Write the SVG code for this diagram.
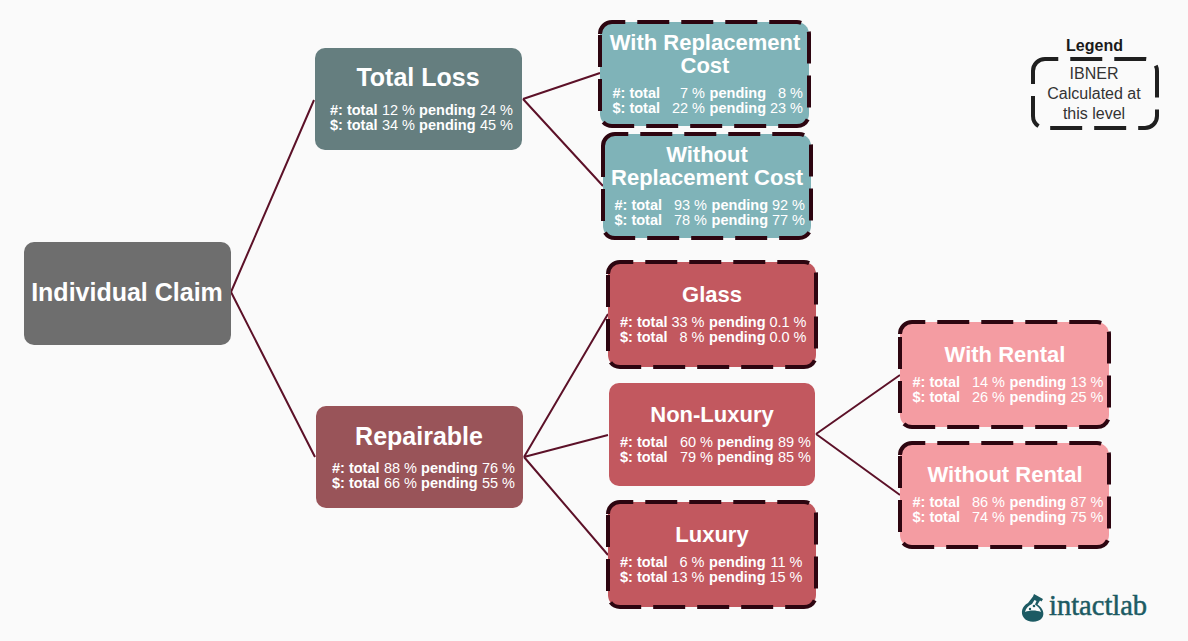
<svg xmlns="http://www.w3.org/2000/svg" width="1188" height="641" viewBox="0 0 1188 641">
<style>
text{font-family:"Liberation Sans",Arial,sans-serif;fill:#fff}
.t{font-weight:700;text-anchor:middle}
.t25{font-size:25px}.t23{font-size:22px}
.r{font-size:14.5px;text-anchor:end}
.b{font-weight:700}
.d{stroke:#2d0510;stroke-width:4;stroke-dasharray:32 12}
.c{stroke:#5c1128;stroke-width:2;fill:none}
.teal{fill:#7fb3b8}.red{fill:#c2585f}.pink{fill:#f49ca2}
.leg{fill:#333;font-size:16px;text-anchor:middle}
</style>
<rect width="1188" height="641" fill="#fafafa"/>
<g id="connectors" class="c">
<path d="M231 292L314 100M231 292L315 457M523 99L600 73M523 99L603 186M524 457L608 314M524 457L608 435M524 457L608 555M816 434L900 375M816 434L900 495"/>
</g>
<g id="individual-claim">
<rect x="24" y="242" width="207" height="103" rx="10" fill="#6e6e6e"/>
<text class="t t25" x="127" y="301">Individual Claim</text>
</g>
<g id="total-loss">
<rect x="315" y="48" width="207" height="102" rx="10" fill="#657e7f"/>
<text class="t t25" x="418" y="86">Total Loss</text>
<text class="r" y="115"><tspan class="b" x="377.500">#: total</tspan><tspan x="415">12 %</tspan><tspan class="b" x="475.500">pending</tspan><tspan x="513">24 %</tspan></text>
<text class="r" y="130"><tspan class="b" x="377.500">$: total</tspan><tspan x="415">34 %</tspan><tspan class="b" x="475.500">pending</tspan><tspan x="513">45 %</tspan></text>
</g>
<g id="repairable">
<rect x="316" y="406" width="207" height="102" rx="10" fill="#995459"/>
<text class="t t25" x="419" y="445">Repairable</text>
<text class="r" y="473"><tspan class="b" x="379.500">#: total</tspan><tspan x="417">88 %</tspan><tspan class="b" x="477.500">pending</tspan><tspan x="515">76 %</tspan></text>
<text class="r" y="488"><tspan class="b" x="379.500">$: total</tspan><tspan x="417">66 %</tspan><tspan class="b" x="477.500">pending</tspan><tspan x="515">55 %</tspan></text>
</g>
<g id="with-replacement-cost">
<path class="d teal" d="M600 34A12 12 0 0 1 612 22H797A12 12 0 0 1 809 34V114A12 12 0 0 1 797 126H612A12 12 0 0 1 600 114Z"/>
<text class="t t23" x="705" y="50">With Replacement</text>
<text class="t t23" x="705" y="73">Cost</text>
<text class="r" y="98"><tspan class="b" x="660">#: total</tspan><tspan x="705">7 %</tspan><tspan class="b" x="766">pending</tspan><tspan x="803">8 %</tspan></text>
<text class="r" y="113"><tspan class="b" x="660">$: total</tspan><tspan x="705">22 %</tspan><tspan class="b" x="766">pending</tspan><tspan x="803">23 %</tspan></text>
</g>
<g id="without-replacement-cost">
<path class="d teal" d="M603 146A12 12 0 0 1 615 134H799A12 12 0 0 1 811 146V226A12 12 0 0 1 799 238H615A12 12 0 0 1 603 226Z"/>
<text class="t t23" x="707" y="162">Without</text>
<text class="t t23" x="707" y="185">Replacement Cost</text>
<text class="r" y="210"><tspan class="b" x="662">#: total</tspan><tspan x="707">93 %</tspan><tspan class="b" x="768">pending</tspan><tspan x="805">92 %</tspan></text>
<text class="r" y="225"><tspan class="b" x="662">$: total</tspan><tspan x="707">78 %</tspan><tspan class="b" x="768">pending</tspan><tspan x="805">77 %</tspan></text>
</g>
<g id="glass">
<path class="d red" d="M608 274A12 12 0 0 1 620 262H804A12 12 0 0 1 816 274V355A12 12 0 0 1 804 367H620A12 12 0 0 1 608 355Z"/>
<text class="t t23" x="712" y="302">Glass</text>
<text class="r" y="327"><tspan class="b" x="667.500">#: total</tspan><tspan x="704.500">33 %</tspan><tspan class="b" x="765.500">pending</tspan><tspan x="806.500">0.1 %</tspan></text>
<text class="r" y="342"><tspan class="b" x="667.500">$: total</tspan><tspan x="704.500">8 %</tspan><tspan class="b" x="765.500">pending</tspan><tspan x="806.500">0.0 %</tspan></text>
</g>
<g id="non-luxury">
<rect x="609" y="383" width="206" height="103" rx="10" fill="#c2585f"/>
<text class="t t23" x="712" y="422">Non-Luxury</text>
<text class="r" y="447"><tspan class="b" x="667.500">#: total</tspan><tspan x="713">60 %</tspan><tspan class="b" x="773.500">pending</tspan><tspan x="811">89 %</tspan></text>
<text class="r" y="462"><tspan class="b" x="667.500">$: total</tspan><tspan x="713">79 %</tspan><tspan class="b" x="773.500">pending</tspan><tspan x="811">85 %</tspan></text>
</g>
<g id="luxury">
<path class="d red" d="M608 514A12 12 0 0 1 620 502H804A12 12 0 0 1 816 514V595A12 12 0 0 1 804 607H620A12 12 0 0 1 608 595Z"/>
<text class="t t23" x="712" y="542">Luxury</text>
<text class="r" y="567"><tspan class="b" x="667.500">#: total</tspan><tspan x="704.500">6 %</tspan><tspan class="b" x="765.500">pending</tspan><tspan x="802.500">11 %</tspan></text>
<text class="r" y="582"><tspan class="b" x="667.500">$: total</tspan><tspan x="704.500">13 %</tspan><tspan class="b" x="765.500">pending</tspan><tspan x="802.500">15 %</tspan></text>
</g>
<g id="with-rental">
<path class="d pink" d="M900 334A12 12 0 0 1 912 322H1097A12 12 0 0 1 1109 334V415A12 12 0 0 1 1097 427H912A12 12 0 0 1 900 415Z"/>
<text class="t t23" x="1005" y="362">With Rental</text>
<text class="r" y="387"><tspan class="b" x="960">#: total</tspan><tspan x="1005">14 %</tspan><tspan class="b" x="1066">pending</tspan><tspan x="1103.500">13 %</tspan></text>
<text class="r" y="402"><tspan class="b" x="960">$: total</tspan><tspan x="1005">26 %</tspan><tspan class="b" x="1066">pending</tspan><tspan x="1103.500">25 %</tspan></text>
</g>
<g id="without-rental">
<path class="d pink" d="M900 455A12 12 0 0 1 912 443H1097A12 12 0 0 1 1109 455V535A12 12 0 0 1 1097 547H912A12 12 0 0 1 900 535Z"/>
<text class="t t23" x="1005" y="482">Without Rental</text>
<text class="r" y="507"><tspan class="b" x="960">#: total</tspan><tspan x="1005">86 %</tspan><tspan class="b" x="1066">pending</tspan><tspan x="1103.500">87 %</tspan></text>
<text class="r" y="522"><tspan class="b" x="960">$: total</tspan><tspan x="1005">74 %</tspan><tspan class="b" x="1066">pending</tspan><tspan x="1103.500">75 %</tspan></text>
</g>
<g id="legend">
<path d="M1033 71A12 12 0 0 1 1045 59H1145A12 12 0 0 1 1157 71V116A12 12 0 0 1 1145 128H1045A12 12 0 0 1 1033 116Z" fill="none" stroke="#1f1f1f" stroke-width="4" stroke-dasharray="32 12"/>
<text x="1094.500" y="51" class="b" style="fill:#1a1a1a;font-size:16px;text-anchor:middle">Legend</text>
<text class="leg" x="1094" y="79">IBNER</text>
<text class="leg" x="1094" y="99">Calculated at</text>
<text class="leg" x="1094" y="119">this level</text>
</g>
<g id="logo">
<path d="M1034 594L1043 599L1041.500 601.500L1040 600.500L1037.500 604.500C1043 608 1045 614 1042 618C1038 623 1028 623 1024 618C1020 613 1022 606 1028 603L1033 596.500Z" fill="#1c5a63"/>
<path d="M1034.500 600L1032 604C1028 606 1026 608 1025 612C1030 610 1036 610 1041 612C1040 608 1037 606 1035 604.500L1036.500 601Z" fill="#fafafa"/>
<circle cx="1034" cy="606" r="1.300" fill="#1c5a63"/><circle cx="1030" cy="609" r="1.200" fill="#1c5a63"/>
<text x="1049" y="615" style="font-family:'Liberation Serif',serif;font-size:28.500px;fill:#1c5a63;stroke:#1c5a63;stroke-width:.5">intactlab</text>
</g>
</svg>
